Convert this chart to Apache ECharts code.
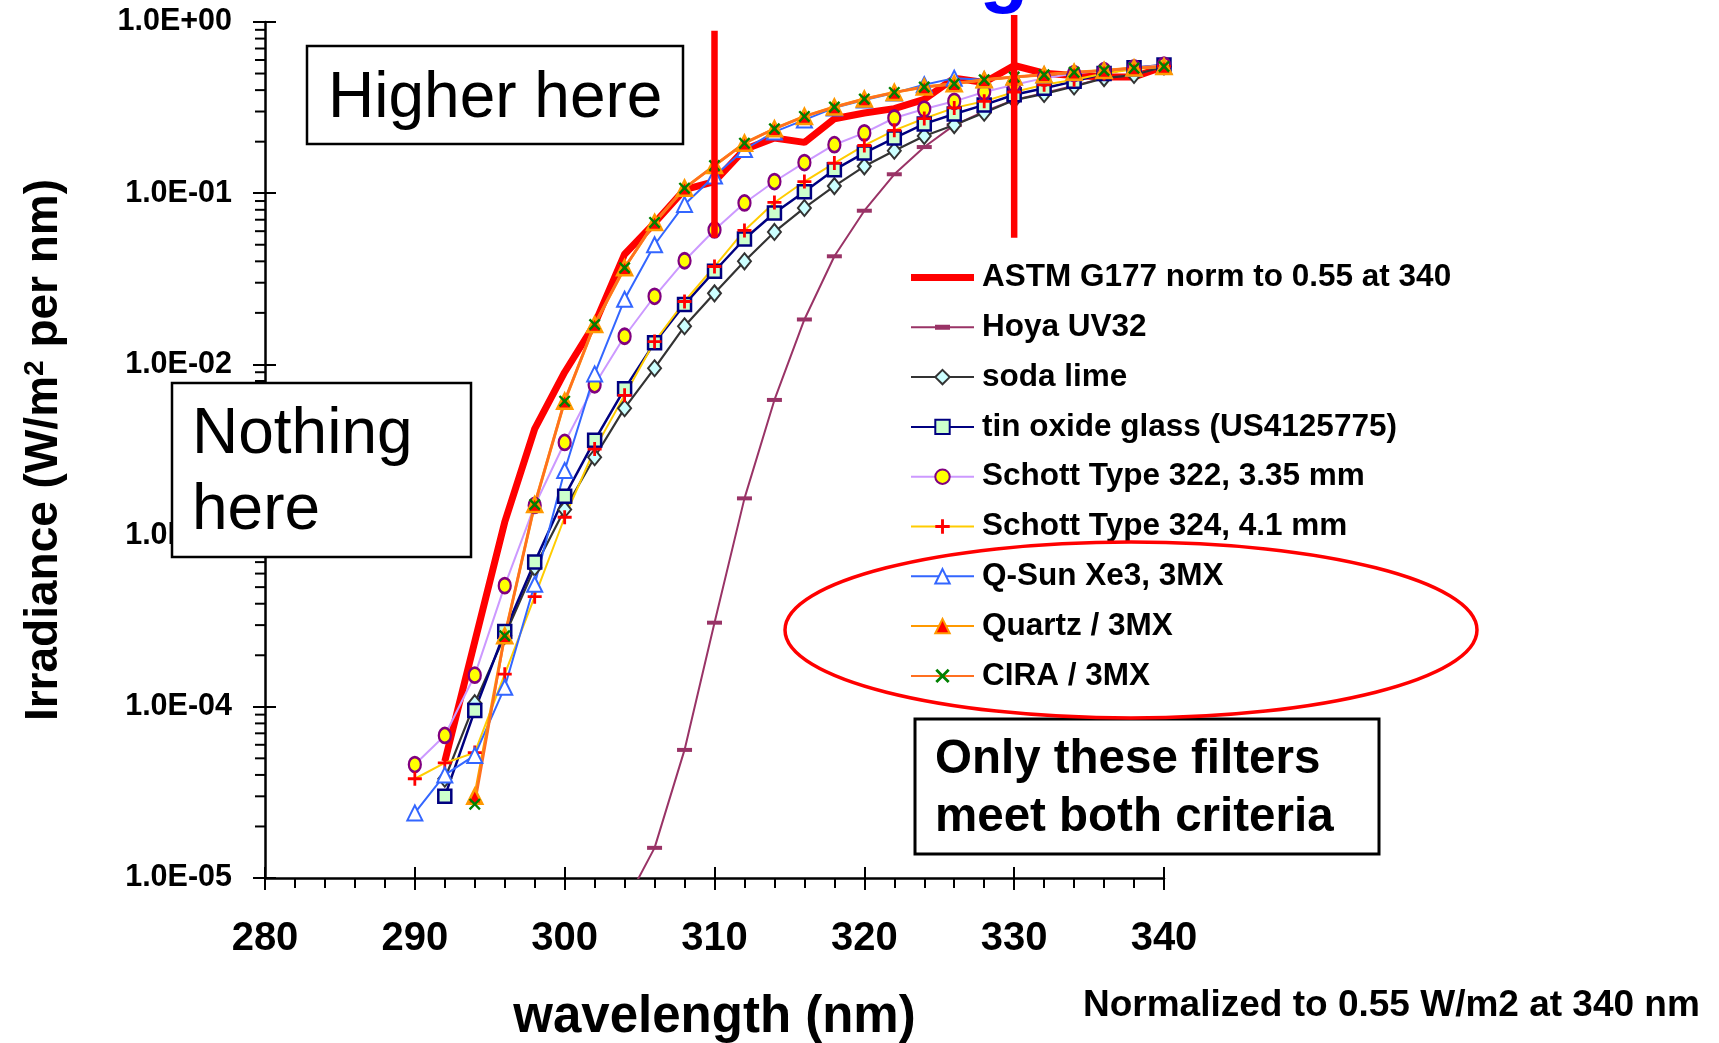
<!DOCTYPE html>
<html>
<head>
<meta charset="utf-8">
<script src="https://cdn.jsdelivr.net/npm/echarts@6/dist/echarts.min.js"></script>
<style>
  html, body { margin: 0; padding: 0; background: #fff; }
  #chart { width: 1719px; height: 1043px; }
</style>
</head>
<body>
<div id="chart"></div>
<script>
const wavelengths = [290, 292, 294, 296, 298, 300, 302, 304, 306, 308, 310, 312, 314,
  316, 318, 320, 322, 324, 326, 328, 330, 332, 334, 336, 338, 340]

// irradiance, W/m2 per nm (null = no point)
const astm = [null, 4.8e-5, 2.4e-4, 1.2e-3, 4.2e-3, 9.0e-3, 0.0172, 0.044, 0.067, 0.105, 0.117,
  0.18, 0.21, 0.198, 0.272, 0.294, 0.312, 0.353, 0.47, 0.443, 0.557, 0.502, 0.487, 0.478, 0.478, 0.55]
const hoya = [null, null, null, null, null, null, null, 7e-6, 1.5e-5, 5.6e-5, 3.1e-4,
  1.65e-3, 6.2e-3, 0.0183, 0.0428, 0.079, 0.129, 0.186, 0.25, 0.3, 0.35, 0.385, 0.425, 0.47, 0.49, 0.55]
const sodaLime = [null, 3.8e-5, 1.05e-4, 2.6e-4, 6.5e-4, 1.42e-3, 2.87e-3, 5.55e-3, 9.5e-3, 0.0167, 0.026,
  0.04, 0.0594, 0.082, 0.11, 0.1435, 0.177, 0.216, 0.25, 0.295, 0.35, 0.38, 0.42, 0.47, 0.49, 0.55]
const tinOxide = [null, 3.0e-5, 9.5e-5, 2.75e-4, 7.0e-4, 1.7e-3, 3.6e-3, 7.2e-3, 0.0134, 0.0224, 0.035,
  0.054, 0.0766, 0.102, 0.137, 0.172, 0.21, 0.254, 0.29, 0.328, 0.376, 0.41, 0.45, 0.5, 0.54, 0.56]
const schott322 = [4.6e-5, 6.8e-5, 1.53e-4, 5.1e-4, 1.5e-3, 3.5e-3, 7.6e-3, 0.0146, 0.025, 0.0403, 0.061,
  0.0877, 0.117, 0.151, 0.192, 0.225, 0.275, 0.31, 0.344, 0.39, 0.43, 0.47, 0.5, 0.52, 0.54, 0.56]
const schott324 = [3.8e-5, 4.7e-5, 5.4e-5, 1.55e-4, 4.4e-4, 1.28e-3, 3.2e-3, 6.6e-3, 0.0136, 0.0233, 0.0373,
  0.0606, 0.0883, 0.117, 0.15, 0.19, 0.233, 0.273, 0.315, 0.344, 0.39, 0.43, 0.46, 0.5, 0.53, 0.55]
const qSun = [2.4e-5, 4.0e-5, 5.2e-5, 1.3e-4, 5.2e-4, 2.4e-3, 8.8e-3, 0.024, 0.05, 0.086, 0.126,
  0.18, 0.228, 0.268, 0.315, 0.35, 0.385, 0.43, 0.47, 0.46, 0.477, 0.49, 0.505, 0.52, 0.535, 0.55]
const quartz = [null, null, 3.0e-5, 2.6e-4, 1.52e-3, 6.1e-3, 0.0171, 0.0367, 0.0675, 0.107, 0.145,
  0.196, 0.238, 0.281, 0.319, 0.355, 0.388, 0.417, 0.436, 0.46, 0.477, 0.492, 0.508, 0.521, 0.538, 0.55]
const cira = [null, null, 2.7e-5, 2.6e-4, 1.52e-3, 6.1e-3, 0.0171, 0.0367, 0.0675, 0.107, 0.145,
  0.196, 0.238, 0.281, 0.319, 0.355, 0.388, 0.417, 0.436, 0.46, 0.477, 0.492, 0.508, 0.521, 0.538, 0.55]

// the two red criteria markers: wavelength, top and bottom irradiance
const criteriaLines = [
  { x: 310, top: 0.89, bottom: 0.055 },
  { x: 330, top: 1.1, bottom: 0.055 }
]

// log minor ticks 2..9 in every decade
const yMinorTicks = []
for (let e = -5; e < 0; e++) {
  for (let m = 2; m <= 9; m++) yMinorTicks.push(m * Math.pow(10, e))
}

const FONT = '"Liberation Sans", Arial, sans-serif'
const PLUS = 'path://M4,0H6V4H10V6H6V10H4V6H0V4H4Z'
const CROSS = 'path://M1.4,0L5,3.6L8.6,0L10,1.4L6.4,5L10,8.6L8.6,10L5,6.4L1.4,10L0,8.6L3.6,5L0,1.4Z'

function pairs(values) {
  return wavelengths.map((w, i) => [w, values[i]]).filter(p => p[1] != null)
}

function expLabel(v) {
  const e = Math.round(Math.log10(v))
  return '1.0E' + (e < 0 ? '-' : '+') + String(Math.abs(e)).padStart(2, '0')
}

const chart = echarts.init(document.getElementById('chart'))

const lineSeries = [
  { name: 'ASTM G177 norm to 0.55 at 340', data: astm, color: '#FF0000', width: 7, symbol: 'none',
    icon: 'path://M0,0H63V7H0Z' },
  { name: 'Hoya UV32', data: hoya, color: '#993366', width: 2, symbol: 'rect', size: [15, 4],
    item: { color: '#993366' }, icon: 'path://M0,8.2H63V10.3H0Z M24,6.8H39V11.7H24Z' },
  { name: 'soda lime', data: sodaLime, color: '#333333', width: 2.2, symbol: 'diamond', size: [13, 16],
    item: { color: '#CCFFFF', borderColor: '#333333', borderWidth: 2 } },
  { name: 'tin oxide glass (US4125775)', data: tinOxide, color: '#000080', width: 2.5, symbol: 'rect', size: 13,
    item: { color: '#CCFFCC', borderColor: '#000080', borderWidth: 2.5 } },
  { name: 'Schott Type 322, 3.35 mm', data: schott322, color: '#CC99FF', width: 2, symbol: 'circle', size: [12, 15],
    item: { color: '#FFFF00', borderColor: '#800080', borderWidth: 2.5 } },
  { name: 'Schott Type 324, 4.1 mm', data: schott324, color: '#FFCC00', width: 2, symbol: PLUS, size: 14,
    item: { color: '#FF0000' } },
  { name: 'Q-Sun Xe3, 3MX', data: qSun, color: '#3366FF', width: 2, symbol: 'triangle', size: 15,
    item: { color: '#FFFFFF', borderColor: '#3366FF', borderWidth: 2 } },
  { name: 'Quartz / 3MX', data: quartz, color: '#FF9900', width: 3, symbol: 'triangle', size: 15,
    item: { color: '#FF0000', borderColor: '#FF9900', borderWidth: 2.5 } },
  { name: 'CIRA / 3MX', data: cira, color: '#FF7020', width: 2.5, symbol: CROSS, size: 12,
    item: { color: '#008000' } }
]

const series = lineSeries.map(s => ({
  name: s.name,
  type: 'line',
  data: pairs(s.data),
  symbol: s.symbol,
  symbolSize: s.size || 0,
  showSymbol: s.symbol !== 'none',
  lineStyle: { color: s.color, width: s.width },
  itemStyle: s.item || { color: s.color },
  emphasis: { disabled: true },
  clip: true
}))

criteriaLines.forEach(c => {
  series.push({
    type: 'line',
    data: [[c.x, c.top], [c.x, c.bottom]],
    symbol: 'none',
    clip: false,
    lineStyle: { color: '#FF0000', width: 6.5 },
    z: 5,
    silent: true
  })
})

// log minor ticks on the y axis, placed by the axis scale
series.push({
  type: 'custom',
  data: yMinorTicks.map(v => [280, v]),
  clip: false,
  silent: true,
  z: 6,
  renderItem: function (params, api) {
    const p = api.coord([api.value(0), api.value(1)])
    return {
      type: 'line',
      shape: { x1: p[0] - 10, y1: p[1], x2: p[0], y2: p[1] },
      style: { stroke: '#000', lineWidth: 2 }
    }
  }
})

const option = {
  animation: false,
  grid: { left: 265, right: 555, top: 22, bottom: 165, containLabel: false, outerBoundsMode: 'none' },
  legend: {
    data: lineSeries.map(s => (s.icon ? { name: s.name, icon: s.icon } : { name: s.name })),
    orient: 'vertical',
    left: 910,
    top: 261.5,
    padding: 0,
    itemWidth: 63,
    itemHeight: 18,
    itemGap: 17.8,
    selectedMode: false,
    textStyle: {
      fontFamily: FONT, fontSize: 31.5, fontWeight: 'bold', color: '#000',
      lineHeight: 32, padding: [0, 0, 0, 3]
    }
  },
  xAxis: [
    {
      type: 'value',
      min: 280,
      max: 340,
      interval: 10,
      name: 'wavelength (nm)',
      nameLocation: 'middle',
      nameGap: 114,
      nameTextStyle: { fontFamily: FONT, fontSize: 51, fontWeight: 'bold', color: '#000' },
      axisLine: { lineStyle: { color: '#000', width: 2.5 } },
      axisTick: { length: 12, lineStyle: { color: '#000', width: 2 } },
      minorTick: { show: true, splitNumber: 5, length: 10, lineStyle: { color: '#000', width: 2 } },
      splitLine: { show: false },
      axisLabel: { margin: 41, fontFamily: FONT, fontSize: 40, fontWeight: 'bold', color: '#000' }
    },
    {
      type: 'value',
      min: 280,
      max: 340,
      interval: 10,
      position: 'bottom',
      axisLine: { show: false },
      axisTick: { inside: true, length: 11, lineStyle: { color: '#000', width: 2 } },
      axisLabel: { show: false },
      splitLine: { show: false }
    }
  ],
  yAxis: [
    {
      type: 'log',
      logBase: 10,
      min: 1e-5,
      max: 1,
      name: 'Irradiance (W/m{sup|2} per nm)',
      nameLocation: 'middle',
      nameRotate: 90,
      nameGap: 198,
      nameTextStyle: {
        fontFamily: FONT, fontSize: 46, fontWeight: 'bold', color: '#000',
        rich: { sup: { fontFamily: FONT, fontSize: 28, fontWeight: 'bold', color: '#000', verticalAlign: 'top', lineHeight: 46 } }
      },
      axisLine: { lineStyle: { color: '#000', width: 2.5 } },
      axisTick: { length: 12, lineStyle: { color: '#000', width: 2 } },
      splitLine: { show: false },
      axisLabel: {
        margin: 33, fontFamily: FONT, fontSize: 30.5, fontWeight: 'bold', color: '#000',
        formatter: expLabel
      }
    },
    {
      type: 'log',
      logBase: 10,
      min: 1e-5,
      max: 1,
      position: 'left',
      axisLine: { show: false },
      axisTick: { inside: true, length: 11, lineStyle: { color: '#000', width: 2 } },
      axisLabel: { show: false },
      splitLine: { show: false }
    }
  ],
  graphic: [
    {
      type: 'text', z: 1,
      style: { text: 'Filters Matching Criteria', x: 415, y: 15, verticalAlign: 'bottom',
        font: 'bold 80px ' + FONT, fill: '#0000FF' }
    },
    {
      type: 'rect', z: 100,
      shape: { x: 307, y: 46, width: 376, height: 98 },
      style: { fill: '#fff', stroke: '#000', lineWidth: 2.5 }
    },
    {
      type: 'text', z: 101,
      style: { text: 'Higher here', x: 328, y: 99, verticalAlign: 'middle', font: '64px ' + FONT, fill: '#000' }
    },
    {
      type: 'rect', z: 100,
      shape: { x: 172, y: 383, width: 299, height: 174 },
      style: { fill: '#fff', stroke: '#000', lineWidth: 2.5 }
    },
    {
      type: 'text', z: 101,
      style: { text: 'Nothing', x: 192, y: 435, verticalAlign: 'middle', font: '64px ' + FONT, fill: '#000' }
    },
    {
      type: 'text', z: 101,
      style: { text: 'here', x: 192, y: 511, verticalAlign: 'middle', font: '64px ' + FONT, fill: '#000' }
    },
    {
      type: 'rect', z: 100,
      shape: { x: 915, y: 719, width: 464, height: 135 },
      style: { fill: '#fff', stroke: '#000', lineWidth: 3 }
    },
    {
      type: 'text', z: 101,
      style: { text: 'Only these filters', x: 935, y: 760, verticalAlign: 'middle', font: 'bold 47.5px ' + FONT, fill: '#000' }
    },
    {
      type: 'text', z: 101,
      style: { text: 'meet both criteria', x: 935, y: 818, verticalAlign: 'middle', font: 'bold 47.5px ' + FONT, fill: '#000' }
    },
    {
      type: 'ellipse', z: 100,
      shape: { cx: 1131, cy: 630, rx: 346, ry: 88 },
      style: { fill: 'none', stroke: '#FF0000', lineWidth: 3.5 }
    },
    {
      type: 'text', z: 101,
      style: { text: 'Normalized to 0.55 W/m2 at 340 nm', x: 1083, y: 1006, verticalAlign: 'middle',
        font: 'bold 37px ' + FONT, fill: '#000' }
    }
  ],
  series: series
}

chart.setOption(option)
</script>
</body>
</html>
